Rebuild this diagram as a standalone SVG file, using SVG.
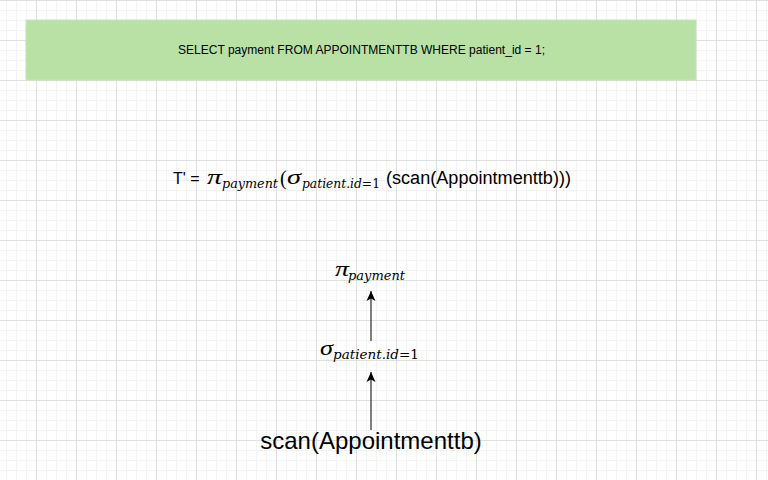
<svg xmlns="http://www.w3.org/2000/svg" width="768" height="480" viewBox="0 0 768 480">
  <defs>
    <pattern id="grid" x="36" y="0" width="40" height="40" patternUnits="userSpaceOnUse">
      <rect x="10" y="0" width="1" height="40" fill="#f3f3f3"/>
      <rect x="20" y="0" width="1" height="40" fill="#f3f3f3"/>
      <rect x="30" y="0" width="1" height="40" fill="#f3f3f3"/>
      <rect x="0" y="10" width="40" height="1" fill="#f3f3f3"/>
      <rect x="0" y="20" width="40" height="1" fill="#f3f3f3"/>
      <rect x="0" y="30" width="40" height="1" fill="#f3f3f3"/>
      <rect x="0" y="0" width="1" height="40" fill="#e0e0e0"/>
      <rect x="0" y="0" width="40" height="1" fill="#e0e0e0"/>
    </pattern>
    <marker id="arrow" markerWidth="12" markerHeight="12" refX="10" refY="6" orient="auto" markerUnits="userSpaceOnUse">
      <path d="M0,1.5 L10,6 L0,10.5 L2.5,6 Z" fill="#000"/>
    </marker>
  </defs>
  <style>
    .sans { font-family: "Liberation Sans", Arial, sans-serif; fill: #000; }
    .greek { font-family: "Liberation Serif", "Times New Roman", serif; font-style: italic; fill: #000; }
    .math { font-family: "DejaVu Serif", "Liberation Serif", serif; font-style: italic; fill: #000; }
    .up { font-style: normal; }
    .edge { stroke: #000; stroke-width: 1; fill: none; marker-end: url(#arrow); }
  </style>
  <rect x="0" y="0" width="768" height="480" fill="#ffffff"/>
  <rect x="0" y="0" width="768" height="480" fill="url(#grid)"/>

  <g id="sql">
    <rect x="26" y="20" width="670" height="60" fill="#b9e0a5" stroke="#c6e6b6" stroke-width="1"/>
    <text class="sans" x="178" y="54" font-size="12" textLength="367" lengthAdjust="spacingAndGlyphs">SELECT payment FROM APPOINTMENTTB WHERE patient_id = 1;</text>
  </g>

  <g id="formula">
    <text class="sans" x="173" y="184" font-size="16">T' =</text>
    <text class="greek" x="207" y="184" font-size="22" textLength="15" lengthAdjust="spacingAndGlyphs">π</text>
    <text class="math" x="222" y="188" font-size="12" textLength="56" lengthAdjust="spacingAndGlyphs">payment</text>
    <text class="greek up" x="280" y="185" font-size="20">(</text>
    <text class="greek" x="287" y="184" font-size="22" textLength="14" lengthAdjust="spacingAndGlyphs">σ</text>
    <text class="math" x="302" y="188" font-size="12" textLength="78" lengthAdjust="spacingAndGlyphs">patient.id<tspan class="up">=1</tspan></text>
    <text class="sans" x="386" y="184" font-size="18" textLength="185" lengthAdjust="spacingAndGlyphs">(scan(Appointmenttb)))</text>
  </g>

  <g id="pi-node">
    <text class="greek" x="335" y="276" font-size="22" textLength="14" lengthAdjust="spacingAndGlyphs">π</text>
    <text class="math" x="348" y="280" font-size="13" textLength="57" lengthAdjust="spacingAndGlyphs">payment</text>
  </g>

  <g id="sigma-node">
    <text class="greek" x="320" y="355" font-size="22" textLength="13" lengthAdjust="spacingAndGlyphs">σ</text>
    <text class="math" x="333" y="359" font-size="13" textLength="86" lengthAdjust="spacingAndGlyphs">patient.id<tspan class="up">=1</tspan></text>
  </g>

  <g id="scan-node">
    <text class="sans" x="371" y="449" font-size="24" text-anchor="middle">scan(Appointmenttb)</text>
  </g>

  <g id="connectors">
    <line class="edge" x1="371" y1="341" x2="371" y2="291"/>
    <line class="edge" x1="371" y1="430" x2="371" y2="372"/>
  </g>
</svg>
